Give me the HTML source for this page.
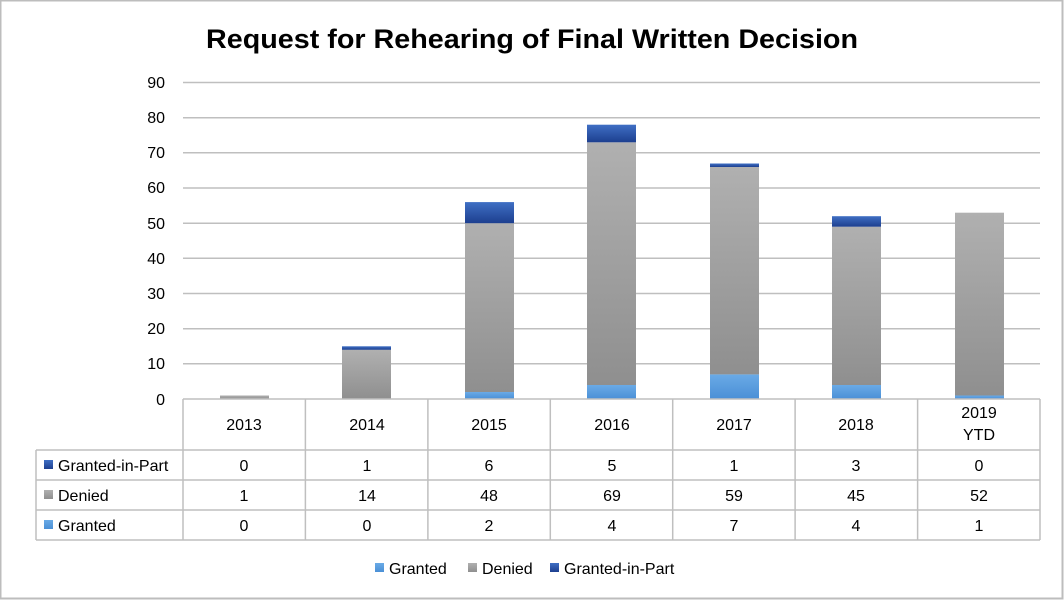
<!DOCTYPE html>
<html><head><meta charset="utf-8"><style>
body{margin:0;background:#fff;}
svg{display:block;font-family:"Liberation Sans",Calibri,sans-serif;}
</style></head><body>
<svg width="1064" height="600" viewBox="0 0 1064 600" xmlns="http://www.w3.org/2000/svg">
<defs>
<linearGradient id="gd" x1="0" y1="0" x2="0" y2="1"><stop offset="0" stop-color="#b0b0b0"/><stop offset="1" stop-color="#8f8f8f"/></linearGradient>
<linearGradient id="gb" x1="0" y1="0" x2="0" y2="1"><stop offset="0" stop-color="#3f6fc4"/><stop offset="1" stop-color="#1d3f8f"/></linearGradient>
<linearGradient id="gl" x1="0" y1="0" x2="0" y2="1"><stop offset="0" stop-color="#6aaae6"/><stop offset="1" stop-color="#4a8fd6"/></linearGradient>
</defs>
<rect x="0.5" y="0.5" width="1062" height="598" fill="#fff" stroke="#bdbdbd" stroke-width="2"/>
<text x="206" y="48" textLength="652" lengthAdjust="spacingAndGlyphs" font-size="27" font-weight="bold" fill="#000">Request for Rehearing of Final Written Decision</text>
<g stroke="#bfbfbf" stroke-width="1.5">
<line x1="183" y1="82.5" x2="1040" y2="82.5"/>
<line x1="183" y1="117.7" x2="1040" y2="117.7"/>
<line x1="183" y1="152.8" x2="1040" y2="152.8"/>
<line x1="183" y1="188" x2="1040" y2="188"/>
<line x1="183" y1="223.2" x2="1040" y2="223.2"/>
<line x1="183" y1="258.3" x2="1040" y2="258.3"/>
<line x1="183" y1="293.5" x2="1040" y2="293.5"/>
<line x1="183" y1="328.7" x2="1040" y2="328.7"/>
<line x1="183" y1="363.8" x2="1040" y2="363.8"/>
</g>
<g font-size="16" fill="#000" text-anchor="end">
<text x="165" y="88">90</text><text x="165" y="123">80</text><text x="165" y="158">70</text>
<text x="165" y="193">60</text><text x="165" y="229">50</text><text x="165" y="264">40</text>
<text x="165" y="299">30</text><text x="165" y="334">20</text><text x="165" y="369">10</text>
<text x="165" y="405">0</text>
</g>
<g>
<rect x="220" y="395.5" width="49" height="3.5" fill="url(#gd)"/>
<rect x="342" y="349.8" width="49" height="49.2" fill="url(#gd)"/>
<rect x="342" y="346.3" width="49" height="3.5" fill="url(#gb)"/>
<rect x="465" y="392" width="49" height="7" fill="url(#gl)"/>
<rect x="465" y="223.2" width="49" height="168.8" fill="url(#gd)"/>
<rect x="465" y="202.1" width="49" height="21.1" fill="url(#gb)"/>
<rect x="587" y="385" width="49" height="14" fill="url(#gl)"/>
<rect x="587" y="142.3" width="49" height="242.7" fill="url(#gd)"/>
<rect x="587" y="124.7" width="49" height="17.6" fill="url(#gb)"/>
<rect x="710" y="374.4" width="49" height="24.6" fill="url(#gl)"/>
<rect x="710" y="167" width="49" height="207.4" fill="url(#gd)"/>
<rect x="710" y="163.5" width="49" height="3.5" fill="url(#gb)"/>
<rect x="832" y="385" width="49" height="14" fill="url(#gl)"/>
<rect x="832" y="226.7" width="49" height="158.3" fill="url(#gd)"/>
<rect x="832" y="216.2" width="49" height="10.5" fill="url(#gb)"/>
<rect x="955" y="395.5" width="49" height="3.5" fill="url(#gl)"/>
<rect x="955" y="212.7" width="49" height="182.8" fill="url(#gd)"/>
</g>
<g stroke="#bfbfbf" stroke-width="1.5" fill="none">
<line x1="183" y1="399" x2="1040" y2="399"/>
<line x1="36" y1="450" x2="1040" y2="450"/>
<line x1="36" y1="480" x2="1040" y2="480"/>
<line x1="36" y1="510" x2="1040" y2="510"/>
<line x1="36" y1="540" x2="1040" y2="540"/>
<line x1="36" y1="450" x2="36" y2="540"/>
<line x1="183" y1="399" x2="183" y2="540"/>
<line x1="305.4" y1="399" x2="305.4" y2="540"/>
<line x1="427.9" y1="399" x2="427.9" y2="540"/>
<line x1="550.3" y1="399" x2="550.3" y2="540"/>
<line x1="672.7" y1="399" x2="672.7" y2="540"/>
<line x1="795.1" y1="399" x2="795.1" y2="540"/>
<line x1="917.6" y1="399" x2="917.6" y2="540"/>
<line x1="1040" y1="399" x2="1040" y2="540"/>
</g>
<g font-size="16" fill="#000" text-anchor="middle">
<text x="244" y="430">2013</text><text x="367" y="430">2014</text><text x="489" y="430">2015</text>
<text x="612" y="430">2016</text><text x="734" y="430">2017</text><text x="856" y="430">2018</text>
<text x="979" y="418">2019</text><text x="979" y="440">YTD</text>
<text x="244" y="471">0</text><text x="367" y="471">1</text><text x="489" y="471">6</text><text x="612" y="471">5</text><text x="734" y="471">1</text><text x="856" y="471">3</text><text x="979" y="471">0</text>
<text x="244" y="501">1</text><text x="367" y="501">14</text><text x="489" y="501">48</text><text x="612" y="501">69</text><text x="734" y="501">59</text><text x="856" y="501">45</text><text x="979" y="501">52</text>
<text x="244" y="531">0</text><text x="367" y="531">0</text><text x="489" y="531">2</text><text x="612" y="531">4</text><text x="734" y="531">7</text><text x="856" y="531">4</text><text x="979" y="531">1</text>
</g>
<g font-size="16" fill="#000">
<rect x="44" y="460" width="9" height="9" fill="url(#gb)"/><text x="58" y="471">Granted-in-Part</text>
<rect x="44" y="490" width="9" height="9" fill="url(#gd)"/><text x="58" y="501">Denied</text>
<rect x="44" y="520" width="9" height="9" fill="url(#gl)"/><text x="58" y="531">Granted</text>
</g>
<g font-size="16" fill="#000">
<rect x="375" y="563" width="9" height="9" fill="url(#gl)"/><text x="389" y="574">Granted</text>
<rect x="468" y="563" width="9" height="9" fill="url(#gd)"/><text x="482" y="574">Denied</text>
<rect x="550" y="563" width="9" height="9" fill="url(#gb)"/><text x="564" y="574">Granted-in-Part</text>
</g>
</svg>
</body></html>
